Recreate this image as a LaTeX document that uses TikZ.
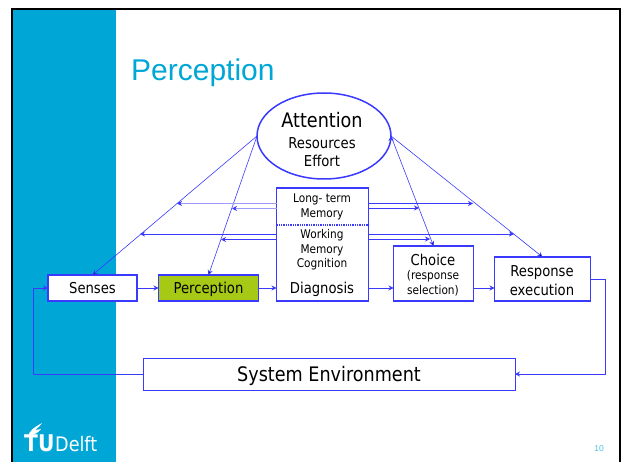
\documentclass[tikz,border=0pt]{standalone}
\usepackage{fontspec}
\setmainfont{Liberation Sans}
\newfontfamily\slidefont[FakeStretch=0.88]{DejaVu Sans}
\usetikzlibrary{arrows.meta,positioning,shapes.geometric}
\definecolor{tublue}{HTML}{00A6D6}
\definecolor{linkblue}{HTML}{3A3AFF}
\definecolor{percgreen}{HTML}{A5C915}
\tikzset{
  blockbox/.style={draw=linkblue,line width=1.3pt,fill=white,inner sep=0pt,outer sep=0pt,align=center,font=\slidefont\fontsize{15}{19}\selectfont},
  link/.style={draw=linkblue,line width=0.9pt,-{Stealth[length=5pt,width=5pt]}},
  thinlink/.style={link,line width=0.6pt},
  palelink/.style={link,draw=linkblue!50,line width=1pt,{-{Stealth[length=5pt,width=5pt,color=linkblue]}}},
  smalltxt/.style={font=\slidefont\fontsize{12}{14.5}\selectfont,align=center}
}
\begin{document}
\begin{tikzpicture}[x=1pt,y=-1pt]
        \useasboundingbox (0,0) rectangle (623,462);
        \fill[tublue] (12,10) rectangle (116,462);
        \draw[black,line width=2pt] (11.5,462) -- (11.5,9.5) -- (619.5,9.5) -- (619.5,462);
        \node[anchor=base west,inner sep=0pt,text=tublue,font=\fontsize{30}{36}\selectfont] (title) at (131,81) {Perception};

        \node[ellipse,draw=linkblue,line width=1.5pt,fill=white,minimum width=134pt,minimum height=86pt,inner sep=0pt,outer sep=0pt] (att) at (324,136) {};
        \node[anchor=base,font=\slidefont\fontsize{20}{24}\selectfont,inner sep=0pt] (atttxt) at (322,128) {Attention};
        \node[font=\slidefont\fontsize{15}{18}\selectfont,align=center,inner sep=0pt] (restxt) at (322,152) {Resources\\Effort};

        \node[blockbox,text height=11pt,text depth=1pt,minimum width=89pt,minimum height=26pt] (senses) at (92.5,288) {Senses};
        \node[blockbox,text height=11pt,text depth=1pt,fill=percgreen,minimum width=100pt,minimum height=26pt,right=21.5pt of senses] (perc) {Perception};
        \node[blockbox,minimum width=92pt,minimum height=113pt,right=18pt of perc.south east,anchor=south west] (diag) {};
        \node[blockbox,minimum width=80pt,minimum height=55pt,right=25pt of diag.south east,anchor=south west] (choice) {};
        \node[blockbox,minimum width=96pt,minimum height=44pt,right=21pt of choice.south east,anchor=south west] (resp) {};
        \node[blockbox,line width=1pt,text height=16pt,text depth=2pt,minimum width=372pt,minimum height=32pt,font=\slidefont\fontsize{20}{24}\selectfont] (sys) at (329,374) {System Environment};

        \node[smalltxt] (ltm) at (322,207) {Long- term\\Memory};
        \node[smalltxt] (wm) at (322,250) {Working\\Memory\\Cognition};
        \node[anchor=base,font=\slidefont\fontsize{15}{18}\selectfont,inner sep=0pt] (dgn) at (322,293.5) {Diagnosis};
        \draw[linkblue,line width=1.3pt,densely dotted] (diag.west |- 0,225) -- (diag.east |- 0,225);
        \node[anchor=base,font=\slidefont\fontsize{15}{18}\selectfont,inner sep=0pt] (chtxt) at (433,265) {Choice};
        \node[smalltxt] (seltxt) at (433,283) {(response\\selection)};
        \node[font=\slidefont\fontsize{15}{19}\selectfont,align=center,inner sep=0pt] (resptxt) at (542,281) {Response\\execution};

        \coordinate (ltl1) at (177,203.5);
        \coordinate (ltl2) at (232,208.5);
        \coordinate (wml1) at (140,234);
        \coordinate (wml2) at (221,239.5);
        \coordinate (ltr1) at (473,203.5);
        \coordinate (ltr2) at (419,208);
        \coordinate (wmr1) at (514,234);
        \coordinate (wmr2) at (430,239);
        \coordinate (sysbend) at (33,374);
        \coordinate (respbend) at (605,279);

        \path[thinlink]
         (att.west) edge (senses.north)
            edge (perc.north)
         (att.east) edge (choice.north)
            edge (resp.north);
        \draw[palelink] (diag.west |- ltl1) -- (ltl1);
        \draw[palelink] (diag.west |- ltl2) -- (ltl2);
        \draw[link] (diag.west |- wml1) -- (wml1);
        \draw[link] (diag.west |- wml2) -- (wml2);
        \draw[thinlink] (diag.east |- ltr1) -- (ltr1);
        \draw[thinlink] (diag.east |- ltr2) -- (ltr2);
        \draw[thinlink] (diag.east |- wmr1) -- (wmr1);
        \draw[thinlink] (diag.east |- wmr2) -- (wmr2);
        \draw[link] (senses.east) -- (perc.west);
        \draw[link] (perc.east) -- (perc.east -| diag.west);
        \draw[link] (diag.east |- senses) -- (choice.west |- senses);
        \draw[link] (choice.east |- senses) -- (resp.west |- senses);
        \draw[link] (resp.east |- respbend) -- (respbend) |- (sys.east);
        \draw[link] (sys.west) -- (sysbend) |- (senses.west);

        \fill[white] (28,437) .. controls (29,431) and (33,428) .. (42,423) .. controls (39,427) and (37,429) .. (35,430) .. controls (38,430) and (40,429) .. (41,429) .. controls (38,433) and (35,434) .. (32,435) -- (31,437) -- cycle;
        \node[anchor=base west,inner sep=0pt,text=white,font=\slidefont\bfseries\fontsize{23}{26}\selectfont] (tu) at (24,451) {TU};
        \node[anchor=base west,inner sep=0pt,text=white,font=\slidefont\fontsize{20}{24}\selectfont] (delft) at (55,451) {Delft};
        \node[inner sep=0pt,text=tublue!70,font=\fontsize{8.5}{9}\selectfont] (pageno) at (599,449) {10};
\end{tikzpicture}
\end{document}
